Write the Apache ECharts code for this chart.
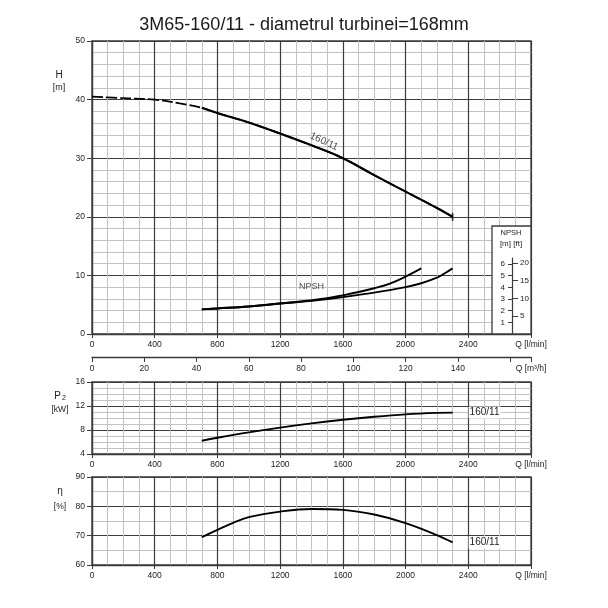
<!DOCTYPE html>
<html><head><meta charset="utf-8">
<script src="https://cdn.jsdelivr.net/npm/echarts@6/dist/echarts.min.js"></script>
<style>html,body{margin:0;padding:0;background:#fff}#c{width:608px;height:608px}</style>
</head><body><div id="c"></div>
<script>
// ---------- data ----------
const titleText = '3M65-160/11 - diametrul turbinei=168mm';
const qTicks = [0, 400, 800, 1200, 1600, 2000, 2400, 2800];       // Q [l/min]
const qm3hTicks = [0, 20, 40, 60, 80, 100, 120, 140, 160];         // Q [m3/h]
const qm3hMax = 168;
const hTicks = [0, 10, 20, 30, 40, 50];                            // H [m]
const p2Ticks = [4, 8, 12, 16];                                    // P2 [kW]
const etaTicks = [60, 70, 80, 90];                                 // eta [%]
const npshMTicks = [1, 2, 3, 4, 5, 6];
const npshFtTicks = [5, 10, 15, 20];

const qHead = [0, 200, 400, 560, 700, 800, 1000, 1200, 1400, 1600, 1800, 2000, 2200, 2300];
const head  = [40.5, 40.25, 40.0, 39.35, 38.6, 37.7, 36.1, 34.2, 32.2, 30.0, 27.1, 24.3, 21.5, 20.0];
const headDashedUntil = 700;
const headLabelAt = 1400;

const qNpshA = [700, 800, 1000, 1200, 1400, 1500, 1600, 1700, 1800, 1900, 2000, 2100];
const npshA  = [2.1, 2.18, 2.35, 2.6, 2.88, 3.05, 3.3, 3.58, 3.9, 4.3, 4.9, 5.6];
const qNpshB = [700, 800, 1000, 1200, 1400, 1600, 1800, 2000, 2100, 2200, 2250, 2300];
const npshB  = [2.1, 2.18, 2.35, 2.6, 2.83, 3.15, 3.53, 4.0, 4.33, 4.8, 5.18, 5.6];
const npshLabelAt = 1400;

const qP2 = [700, 800, 1000, 1200, 1400, 1600, 1800, 2000, 2200, 2300];
const p2  = [6.2, 6.7, 7.6, 8.4, 9.1, 9.7, 10.2, 10.6, 10.85, 10.9];

const qEta = [700, 800, 900, 1000, 1200, 1400, 1600, 1800, 2000, 2200, 2300];
const eta  = [69.5, 72.0, 74.4, 76.3, 78.2, 79.1, 78.8, 77.2, 74.3, 70.2, 67.7];

const curveName = '160/11';
const M_PER_FT = 0.3048;

// ---------- helpers ----------
const zip = (xs, ys) => xs.map((x, i) => [x, ys[i]]);
const FONT = 'Liberation Sans, Arial, sans-serif';
const MAJOR = '#3b3b3b', MINOR = '#c2c2c2', TXT = '#222';
const step = a => a[1] - a[0];

function qAxis(gi) {
  return {
    type: 'value', gridIndex: gi,
    min: qTicks[0], max: qTicks[qTicks.length - 1], interval: step(qTicks),
    axisLine: { show: true, onZero: false, lineStyle: { color: MAJOR, width: 1.3 } },
    axisTick: { show: true, length: 4, lineStyle: { color: MAJOR, width: 1 } },
    axisLabel: { margin: 6, fontSize: 8.5, color: TXT, fontFamily: FONT,
      formatter: v => v === qTicks[qTicks.length - 1] ? 'Q [l/min]' : String(v) },
    splitLine: { show: true, lineStyle: { color: MAJOR, width: 1.2 } },
    minorTick: { show: false, splitNumber: 4 },
    minorSplitLine: { show: true, lineStyle: { color: MINOR, width: 1 } }
  };
}
function valAxis(gi, ticks, minorSplit) {
  return {
    type: 'value', gridIndex: gi,
    min: ticks[0], max: ticks[ticks.length - 1], interval: step(ticks),
    axisLine: { show: true, onZero: false, lineStyle: { color: MAJOR, width: 1.3 } },
    axisTick: { show: true, length: 5, lineStyle: { color: MAJOR, width: 1 } },
    axisLabel: { margin: 7, fontSize: 8.5, color: TXT, fontFamily: FONT },
    splitLine: { show: true, lineStyle: { color: MAJOR, width: 1.2 } },
    minorTick: { show: false, splitNumber: minorSplit },
    minorSplitLine: { show: true, lineStyle: { color: MINOR, width: 1 } }
  };
}
const hidden = gi => ({ type: 'value', gridIndex: gi, show: false, min: 0, max: 1 });

const lineBase = { type: 'line', smooth: 0.4, symbol: 'none', showSymbol: false,
  lineStyle: { color: '#000', width: 1.9 }, itemStyle: { color: '#000' }, silent: true, animation: false };

const headAll = zip(qHead, head);
const headSolid = headAll.filter(p => p[0] >= headDashedUntil);
const headEnd = [headAll[headAll.length - 1]];
const headLblPt = headAll.filter(p => p[0] === headLabelAt);
const npshLblPt = zip(qNpshA, npshA).filter(p => p[0] === npshLabelAt);

const endLbl = { show: true, formatter: curveName, distance: 16, fontSize: 10, color: TXT,
  fontFamily: FONT, backgroundColor: '#fff', padding: [1, 1, 1, 1] };

const option = {
  animation: false,
  backgroundColor: '#fff',
  title: { text: titleText, left: 'center', top: 11,
    textStyle: { fontSize: 18, fontWeight: 'normal', color: '#1a1a1a', fontFamily: FONT } },
  grid: [
    { left: 92, top: 41, width: 439, height: 293, show: true, borderColor: MAJOR, borderWidth: 1.3 },
    { left: 92, top: 356, width: 439, height: 1, show: false },
    { left: 92, top: 382, width: 439, height: 72, show: true, borderColor: MAJOR, borderWidth: 1.3 },
    { left: 92, top: 477, width: 439, height: 88, show: true, borderColor: MAJOR, borderWidth: 1.3 },
    { left: 492, top: 226, width: 39, height: 108, show: true, backgroundColor: '#fff', borderColor: MAJOR, borderWidth: 1.3, z: 10 },
    { left: 512, top: 258, width: 1, height: 76, show: false, z: 11 }
  ],
  xAxis: [
    qAxis(0),
    {
      type: 'value', gridIndex: 1, min: qm3hTicks[0], max: qm3hMax, interval: step(qm3hTicks),
      axisLine: { show: true, onZero: false, lineStyle: { color: MAJOR, width: 1.3 } },
      axisTick: { show: true, length: 5, lineStyle: { color: MAJOR, width: 1 } },
      axisLabel: { margin: 7, fontSize: 8.5, color: TXT, fontFamily: FONT,
        formatter: v => v === qm3hMax ? 'Q [m³/h]' : (v === qm3hTicks[qm3hTicks.length - 1] ? '' : String(v)) },
      splitLine: { show: false }
    },
    qAxis(2),
    qAxis(3),
    hidden(4),
    hidden(5)
  ],
  yAxis: [
    valAxis(0, hTicks, 5),
    { type: 'value', gridIndex: 0, show: false, min: 0, max: hTicks[hTicks.length - 1] / 2 },
    hidden(1),
    valAxis(2, p2Ticks, 4),
    valAxis(3, etaTicks, 2),
    hidden(4),
    {
      type: 'value', gridIndex: 5, position: 'left', min: 0, max: 76 / (70 / 6), z: 12,
      axisLine: { show: true, lineStyle: { color: MAJOR, width: 1.2 } },
      axisTick: { show: true, length: 4, customValues: npshMTicks, lineStyle: { color: MAJOR } },
      axisLabel: { margin: 7, fontSize: 8, color: TXT, fontFamily: FONT, customValues: npshMTicks },
      splitLine: { show: false }
    },
    {
      type: 'value', gridIndex: 5, position: 'right', min: 0, max: (76 / (70 / 6)) / M_PER_FT, z: 12,
      axisLine: { show: false },
      axisTick: { show: true, length: 5, customValues: npshFtTicks, lineStyle: { color: MAJOR } },
      axisLabel: { margin: 7, fontSize: 8, color: TXT, fontFamily: FONT, customValues: npshFtTicks },
      splitLine: { show: false }
    }
  ],
  series: [
    Object.assign({}, lineBase, { xAxisIndex: 0, yAxisIndex: 0, data: headAll,
      lineStyle: { color: '#000', width: 1.7, type: [11, 3] } }),
    Object.assign({}, lineBase, { xAxisIndex: 0, yAxisIndex: 0, data: headSolid, lineStyle: { color: '#000', width: 2.1 } }),
    { type: 'scatter', xAxisIndex: 0, yAxisIndex: 0, data: headEnd, symbol: 'rect', symbolSize: [1.6, 8],
      itemStyle: { color: '#000' }, silent: true },
    { type: 'scatter', xAxisIndex: 0, yAxisIndex: 0, data: headLblPt, symbolSize: 0, silent: true,
      label: { show: true, formatter: curveName, position: 'top', distance: 3, rotate: -25,
        offset: [11, -1], fontSize: 10, color: TXT, fontFamily: FONT } },
    Object.assign({}, lineBase, { xAxisIndex: 0, yAxisIndex: 1, data: zip(qNpshA, npshA) }),
    Object.assign({}, lineBase, { xAxisIndex: 0, yAxisIndex: 1, data: zip(qNpshB, npshB) }),
    { type: 'scatter', xAxisIndex: 0, yAxisIndex: 1, data: npshLblPt, symbolSize: 0, silent: true,
      label: { show: true, formatter: 'NPSH', position: 'top', distance: 9, fontSize: 9, color: TXT, fontFamily: FONT } },
    Object.assign({}, lineBase, { xAxisIndex: 2, yAxisIndex: 3, data: zip(qP2, p2), endLabel: endLbl }),
    Object.assign({}, lineBase, { xAxisIndex: 3, yAxisIndex: 4, data: zip(qEta, eta), endLabel: endLbl })
  ],
  graphic: [
    { type: 'text', x: 59, y: 75, z: 20, style: { text: 'H', fontSize: 10, fill: TXT, fontFamily: FONT, align: 'center', verticalAlign: 'middle' } },
    { type: 'text', x: 59, y: 88, z: 20, style: { text: '[m]', fontSize: 9, fill: TXT, fontFamily: FONT, align: 'center', verticalAlign: 'middle' } },
    { type: 'text', x: 60, y: 396, z: 20, style: { text: 'P{s|2}', fontSize: 10, fill: TXT, fontFamily: FONT, align: 'center', verticalAlign: 'middle',
      rich: { s: { fontSize: 7, fill: TXT, fontFamily: FONT, padding: [4, 0, 0, 1] } } } },
    { type: 'text', x: 60, y: 410, z: 20, style: { text: '[kW]', fontSize: 8.5, fill: TXT, fontFamily: FONT, align: 'center', verticalAlign: 'middle' } },
    { type: 'text', x: 60, y: 491, z: 20, style: { text: 'η', fontSize: 10, fill: TXT, fontFamily: FONT, align: 'center', verticalAlign: 'middle' } },
    { type: 'text', x: 60, y: 507, z: 20, style: { text: '[%]', fontSize: 8.5, fill: TXT, fontFamily: FONT, align: 'center', verticalAlign: 'middle' } },
    { type: 'text', x: 511, y: 233, z: 30, style: { text: 'NPSH', fontSize: 7.5, fill: TXT, fontFamily: FONT, align: 'center', verticalAlign: 'middle' } },
    { type: 'text', x: 511, y: 244, z: 30, style: { text: '[m] [ft]', fontSize: 8, fill: TXT, fontFamily: FONT, align: 'center', verticalAlign: 'middle' } }
  ]
};

const chart = echarts.init(document.getElementById('c'), null, { renderer: 'canvas' });
chart.setOption(option);
</script>
</body></html>
